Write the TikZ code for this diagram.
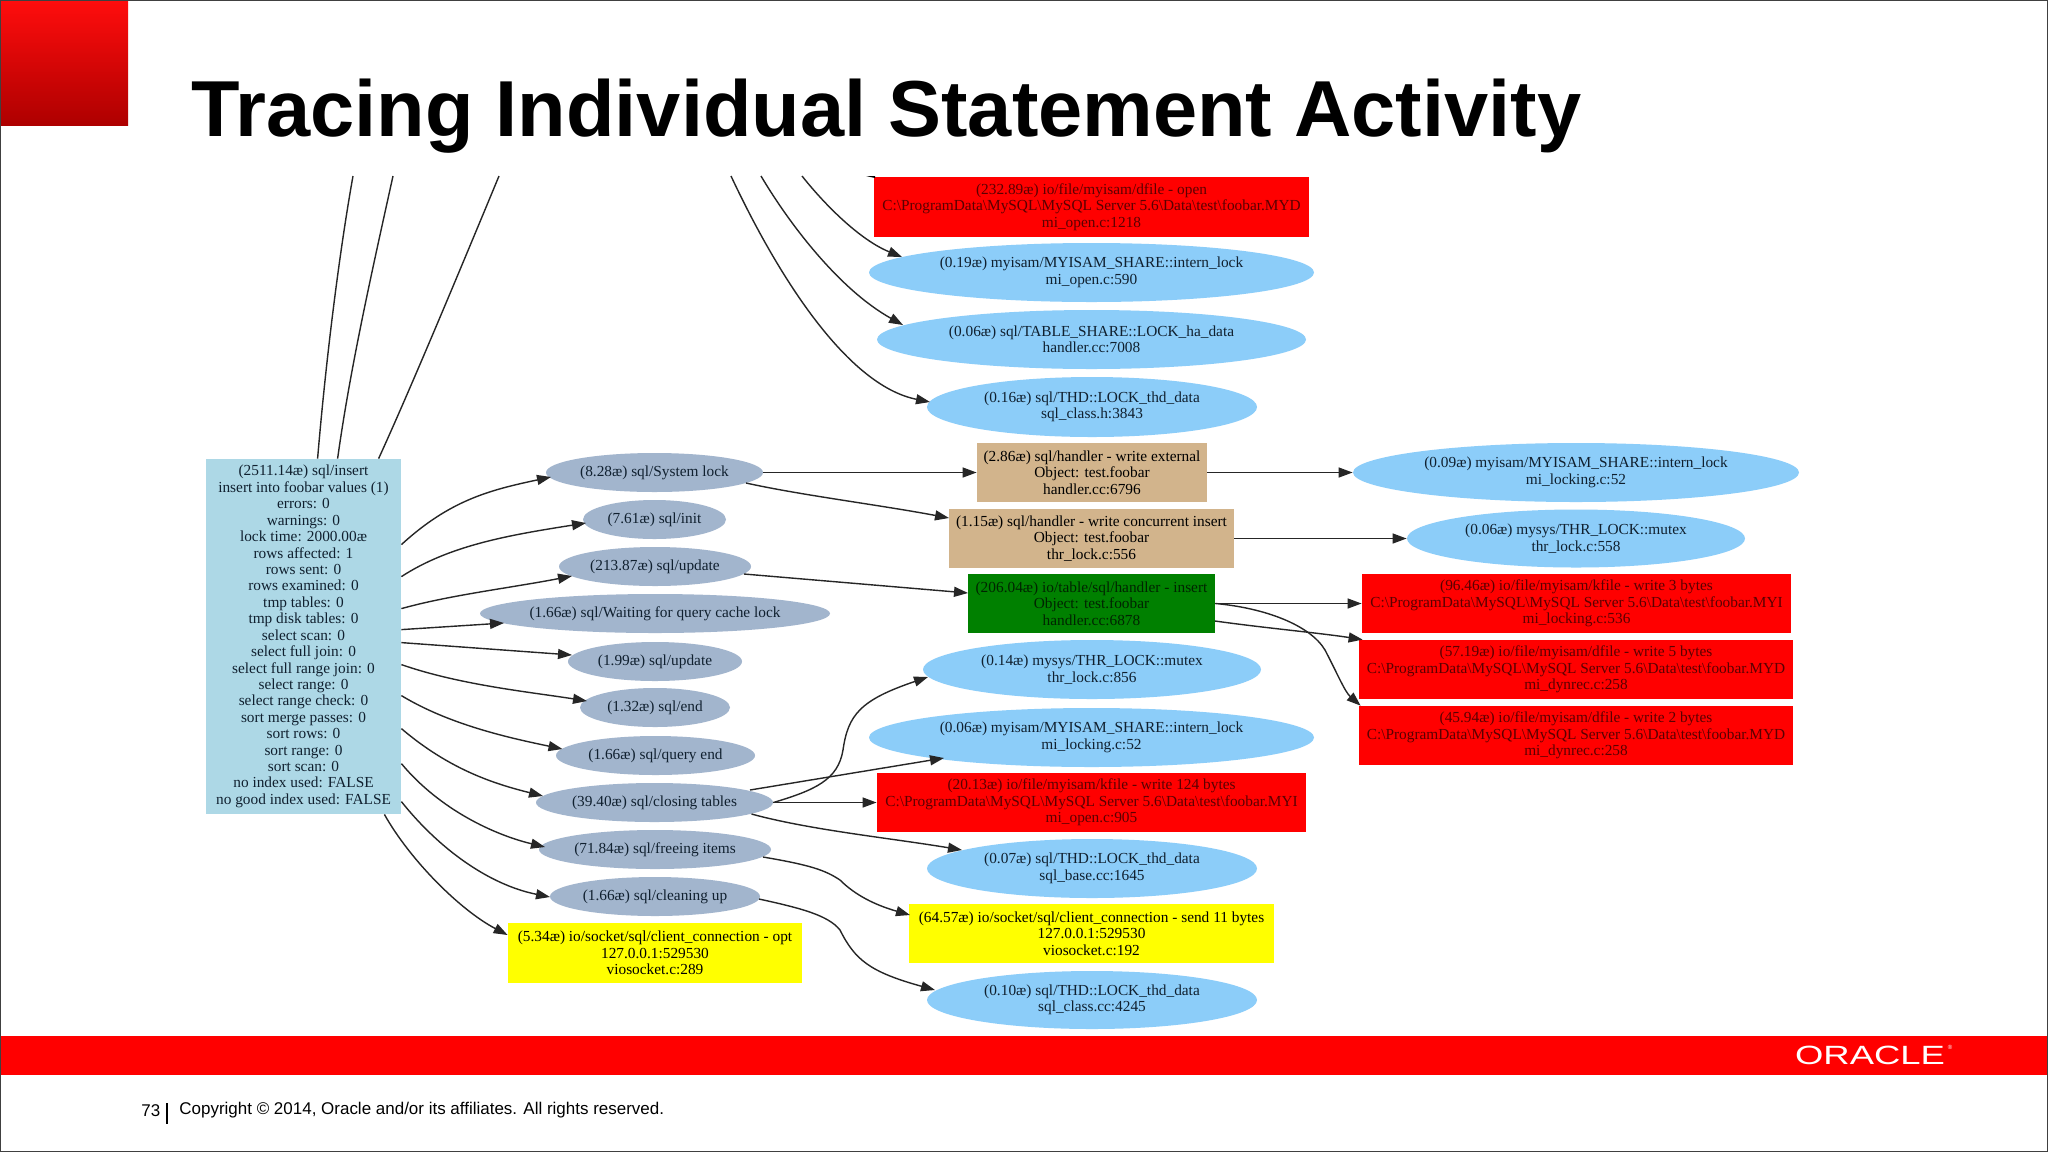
\documentclass[tikz,border=0pt]{standalone}
\usepackage{fontspec}
\setmainfont{Liberation Serif}
\newfontfamily\arialfont{Liberation Sans}
\usetikzlibrary{shapes.geometric,arrows.meta,calc}
\newcommand{\bs}{\textbackslash}
\newcommand{\psql}{C:\bs ProgramData\bs MySQL\bs MySQL Server 5.6\bs Data\bs test\bs foobar}
\definecolor{ovalblue}{HTML}{8CCDF9}
\definecolor{greyblue}{HTML}{A2B5CD}
\definecolor{boxblue}{HTML}{ADD8E6}
\definecolor{tanfill}{HTML}{D2B48C}
\definecolor{greenfill}{HTML}{008000}
\definecolor{oraclered}{HTML}{FF0000}
\definecolor{yellowfill}{HTML}{FFFF00}
\definecolor{redtext}{HTML}{5A0000}
\definecolor{greentext}{HTML}{002400}
\definecolor{ovaltext}{HTML}{10202F}
\tikzset{
  sz/.style 2 args={minimum width=#1*0.5pt,minimum height=#2*0.5pt},
  gv/.style={inner sep=-6pt,align=center,font=\fontsize{7.67}{8.21}\selectfont},
  oval/.style={gv,ellipse,fill=ovalblue,text=ovaltext},
  greyoval/.style={gv,ellipse,fill=greyblue,text=ovaltext},
  bluebox/.style={gv,rectangle,fill=boxblue,text=ovaltext},
  redbox/.style={gv,rectangle,fill=oraclered,text=redtext},
  yellowbox/.style={gv,rectangle,fill=yellowfill,text=black},
  tanbox/.style={gv,rectangle,fill=tanfill,text=black},
  greenbox/.style={gv,rectangle,fill=greenfill,text=greentext},
  edge/.style={draw=black!85,line width=0.7pt,-{Triangle[length=7pt,width=5pt]}},
  plainedge/.style={draw=black!85,line width=0.7pt},
  title/.style={anchor=base west,inner sep=0pt,font=\arialfont\bfseries\fontsize{39.7}{48}\selectfont},
  foot/.style={anchor=base west,inner sep=0pt,text=black,font=\arialfont\fontsize{8.49}{10}\selectfont},
}
\begin{document}
\begin{tikzpicture}[x=0.5pt,y=-0.5pt]
\useasboundingbox (0,0) rectangle (2048,1152);
\fill[white] (0,0) rectangle (2048,1152);
% slide furniture
\shade[top color=red!95!white,bottom color=red!68!black] (1,1) rectangle (128,125);
\node[title] (ttl) at (191,136.5) {Tracing Individual Statement Activity};
\fill[oraclered] (0,1036) rectangle (2048,1075);
\node[anchor=center,inner sep=0pt,text=white,xscale=1.38,font=\arialfont\fontsize{13.2}{15}\selectfont] (logo) at (1870,1055.5) {ORACLE};
\node[anchor=center,inner sep=0pt,text=white,font=\arialfont\fontsize{3}{3}\selectfont] (logor) at (1950,1047.5) {®};
\node[foot] (pg) at (141,1116) {73};
\draw[black,line width=0.6pt] (167,1103) -- (167,1124);
\node[foot] (cp) at (179,1114) {Copyright © 2014, Oracle and/or its affiliates. All rights reserved.};

% free ends
\coordinate (t1) at (353,176);
\coordinate (t2) at (393,176);
\coordinate (t3) at (499,176);
\coordinate (t4) at (731,176);
\coordinate (t5) at (761,176);
\coordinate (t6) at (802,176);

% left box
\node[bluebox,sz={195}{355}] (box) at (303.5,636.5) {(2511.14æ) sql/insert\\insert into foobar values (1)\\errors: 0\\warnings: 0\\lock time: 2000.00æ\\rows affected: 1\\rows sent: 0\\rows examined: 0\\tmp tables: 0\\tmp disk tables: 0\\select scan: 0\\select full join: 0\\select full range join: 0\\select range: 0\\select range check: 0\\sort merge passes: 0\\sort rows: 0\\sort range: 0\\sort scan: 0\\no index used: FALSE\\no good index used: FALSE};

% second column
\node[greyoval,sz={217}{39}] (sys) at (654.5,472.5) {(8.28æ) sql/System lock};
\node[greyoval,sz={143}{39}] (init) at (654.5,519.5) {(7.61æ) sql/init};
\node[greyoval,sz={192}{39}] (upd) at (655,566.5) {(213.87æ) sql/update};
\node[greyoval,sz={350}{39}] (wait) at (655,613.5) {(1.66æ) sql/Waiting for query cache lock};
\node[greyoval,sz={174}{39}] (upd2) at (655,661.5) {(1.99æ) sql/update};
\node[greyoval,sz={150}{39}] (endn) at (655,707.5) {(1.32æ) sql/end};
\node[greyoval,sz={199}{39}] (qend) at (655.5,755.5) {(1.66æ) sql/query end};
\node[greyoval,sz={237}{39}] (clos) at (654.5,802.5) {(39.40æ) sql/closing tables};
\node[greyoval,sz={232}{39}] (free) at (655,849.5) {(71.84æ) sql/freeing items};
\node[greyoval,sz={210}{39}] (clean) at (655,896.5) {(1.66æ) sql/cleaning up};
\node[yellowbox,sz={294}{60}] (opt) at (655,953) {(5.34æ) io/socket/sql/client\_connection - opt\\127.0.0.1:529530\\viosocket.c:289};

% third column
\node[redbox,sz={435}{60}] (open) at (1091.5,207) {(232.89æ) io/file/myisam/dfile - open\\\psql.MYD\\mi\_open.c:1218};
\node[oval,sz={445}{59}] (ms1) at (1091.5,272.5) {(0.19æ) myisam/MYISAM\_SHARE::intern\_lock\\mi\_open.c:590};
\node[oval,sz={429}{59}] (ts) at (1091.5,339.5) {(0.06æ) sql/TABLE\_SHARE::LOCK\_ha\_data\\handler.cc:7008};
\node[oval,sz={330}{60}] (thd1) at (1092,407) {(0.16æ) sql/THD::LOCK\_thd\_data\\sql\_class.h:3843};
\node[tanbox,sz={230}{59}] (wext) at (1092,472.5) {(2.86æ) sql/handler - write external\\Object: test.foobar\\handler.cc:6796};
\node[tanbox,sz={285}{59}] (wcon) at (1091.5,538.5) {(1.15æ) sql/handler - write concurrent insert\\Object: test.foobar\\thr\_lock.c:556};
\node[greenbox,sz={247}{59}] (gr) at (1091.5,603.5) {(206.04æ) io/table/sql/handler - insert\\Object: test.foobar\\handler.cc:6878};
\node[oval,sz={338}{59}] (thr) at (1092,669.5) {(0.14æ) mysys/THR\_LOCK::mutex\\thr\_lock.c:856};
\node[oval,sz={445}{59}] (ms2) at (1091.5,737.5) {(0.06æ) myisam/MYISAM\_SHARE::intern\_lock\\mi\_locking.c:52};
\node[redbox,sz={429}{59}] (r20) at (1091.5,802.5) {(20.13æ) io/file/myisam/kfile - write 124 bytes\\\psql.MYI\\mi\_open.c:905};
\node[oval,sz={330}{59}] (thd2) at (1092,868.5) {(0.07æ) sql/THD::LOCK\_thd\_data\\sql\_base.cc:1645};
\node[yellowbox,sz={365}{59}] (ysend) at (1091.5,933.5) {(64.57æ) io/socket/sql/client\_connection - send 11 bytes\\127.0.0.1:529530\\viosocket.c:192};
\node[oval,sz={330}{58}] (thd3) at (1092,1000) {(0.10æ) sql/THD::LOCK\_thd\_data\\sql\_class.cc:4245};

% fourth column
\node[oval,sz={446}{59}] (ms3) at (1576,472.5) {(0.09æ) myisam/MYISAM\_SHARE::intern\_lock\\mi\_locking.c:52};
\node[oval,sz={338}{58}] (thr2) at (1576,538.5) {(0.06æ) mysys/THR\_LOCK::mutex\\thr\_lock.c:558};
\node[redbox,sz={429}{59}] (r96) at (1576.5,603.5) {(96.46æ) io/file/myisam/kfile - write 3 bytes\\\psql.MYI\\mi\_locking.c:536};
\node[redbox,sz={434}{59}] (r57) at (1576,669.5) {(57.19æ) io/file/myisam/dfile - write 5 bytes\\\psql.MYD\\mi\_dynrec.c:258};
\node[redbox,sz={434}{59}] (r45) at (1576,735.5) {(45.94æ) io/file/myisam/dfile - write 2 bytes\\\psql.MYD\\mi\_dynrec.c:258};

% edges leaving the top of the box
\draw[plainedge] ($(box.north west)+(112,0)$) .. controls (325,370) and (338,260) .. (t1);
\draw[plainedge] ($(box.north west)+(132,0)$) .. controls (350,370) and (370,280) .. (t2);
\draw[plainedge] ($(box.north west)+(173,0)$) .. controls (410,390) and (460,270) .. (t3);

% edges from the box to the second column
\draw[edge] ($(box.north east)+(0,86)$) .. controls (450,500) and (490,490) .. ($(sys)+(-103.5,4.5)$);
\draw[edge] ($(box.north east)+(0,118)$) .. controls (450,545) and (510,535) .. ($(init)+(-68.5,3.5)$);
\draw[edge] ($(box.north east)+(0,150)$) .. controls (450,595) and (510,588) .. ($(upd)+(-83,9.5)$);
\draw[edge] ($(box.north east)+(0,171)$) -- ($(wait)+(-151,9.5)$);
\draw[edge] ($(box.north east)+(0,184)$) -- ($(upd2)+(-83,-6.5)$);
\draw[edge] ($(box.north east)+(0,206)$) .. controls (460,685) and (530,692) .. ($(endn)+(-68,-6.5)$);
\draw[edge] ($(box.north east)+(0,237)$) .. controls (450,725) and (510,738) .. ($(qend)+(-93,-6.5)$);
\draw[edge] ($(box.north east)+(0,270)$) .. controls (450,770) and (495,784) .. ($(clos)+(-111.5,-6.5)$);
\draw[edge] ($(box.north east)+(0,305)$) .. controls (440,810) and (495,835) .. ($(free)+(-110,-2.5)$);
\draw[edge] ($(box.north east)+(0,343)$) .. controls (440,850) and (490,885) .. ($(clean)+(-105,0.5)$);
\draw[edge] ($(box.south east)+(-17,0)$) .. controls (410,860) and (460,910) .. ($(opt.west)+(0,-18)$);

% edges entering the third column from above
\draw[edge] (t4) .. controls (775,270) and (845,385) .. ($(thd1)+(-162,-5)$);
\draw[edge] (t5) .. controls (790,225) and (840,290) .. ($(ts)+(-188.5,-14.5)$);
\draw[edge] (t6) .. controls (825,205) and (860,240) .. ($(ms1)+(-189.5,-15.5)$);
\fill[black] (866,176) -- (875,176) -- (875,178) -- cycle;

% second to third column
\draw[edge] (sys.east) -- (wext.west);
\draw[edge] ($(sys)+(91.5,10.5)$) .. controls (800,495) and (880,505) .. ($(wcon)+(-142.5,-20.5)$);
\draw[edge] ($(upd)+(89,7.5)$) -- ($(gr)+(-123.5,-10.5)$);
\draw[edge] (clos.east) .. controls (815,790) and (838,780) .. (843,750) .. controls (848,715) and (860,700) .. ($(thr)+(-164,7.5)$);
\draw[edge] ($(clos)+(95.5,-12.5)$) -- ($(ms2)+(-147.5,20.5)$);
\draw[edge] (clos.east) -- (r20.west);
\draw[edge] ($(clos)+(97,11.5)$) .. controls (810,830) and (890,838) .. ($(thd2)+(-130,-18.5)$);
\draw[edge] ($(free)+(108,7.5)$) .. controls (810,865) and (825,870) .. (840,880) .. controls (855,895) and (875,905) .. ($(ysend)+(-181.5,-18.5)$);
\draw[edge] ($(clean)+(104,2.5)$) .. controls (800,908) and (828,915) .. (840,930) .. controls (855,960) and (870,972) .. ($(thd3)+(-157,-10)$);

% third to fourth column
\draw[edge] (wext.east) -- (ms3.west);
\draw[edge] (wcon.east) -- (thr2.west);
\draw[edge] (gr.east) -- (r96.west);
\draw[edge] ($(gr)+(123.5,17.5)$) .. controls (1265,628) and (1320,633) .. ($(r57.north west)+(4,0)$);
\draw[edge] (gr.east) .. controls (1265,608) and (1310,625) .. (1325,650) .. controls (1338,675) and (1345,692) .. ($(r45.north west)+(2,0)$);

% slide frame
\draw[black!75,line width=0.7pt] (0.7,0.7) rectangle (2047.3,1151.3);
\end{tikzpicture}
\end{document}
